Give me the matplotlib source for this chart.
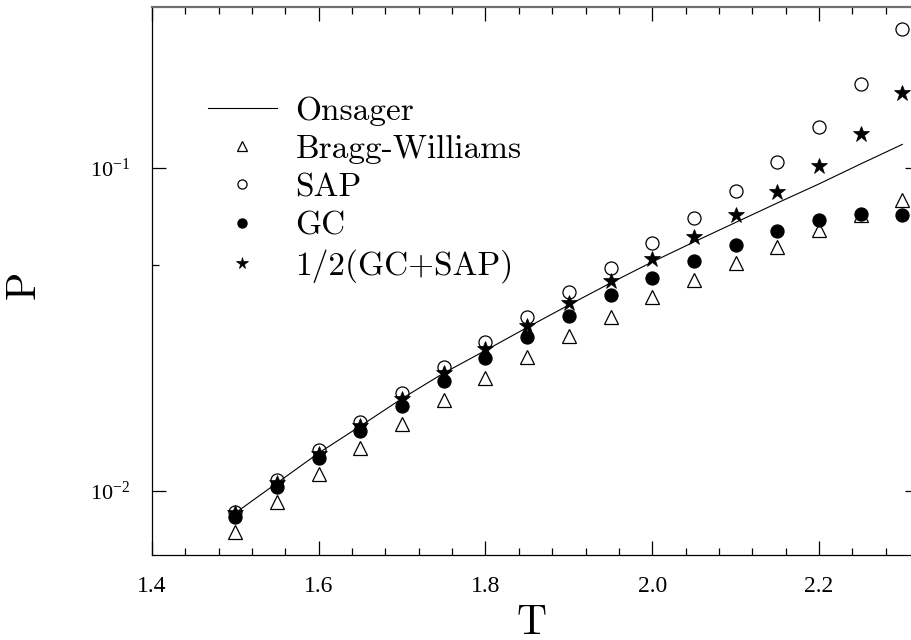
import matplotlib
matplotlib.use("Agg")
import matplotlib.pyplot as plt
from matplotlib.ticker import MultipleLocator, LogLocator, NullFormatter

plt.rcParams['font.family'] = ['Liberation Serif', 'DejaVu Serif']
plt.rcParams['mathtext.fontset'] = 'custom'
plt.rcParams['mathtext.rm'] = 'Liberation Serif'
plt.rcParams['mathtext.it'] = 'Liberation Serif:italic'
plt.rcParams['axes.formatter.use_mathtext'] = True

# ---------------- data ----------------
T = [1.50, 1.55, 1.60, 1.65, 1.70, 1.75, 1.80, 1.85, 1.90,
     1.95, 2.00, 2.05, 2.10, 2.15, 2.20, 2.25, 2.30]

onsager = [0.00855, 0.01059, 0.01311, 0.01589, 0.01934, 0.02318, 0.02723, 0.03208,
           0.03765, 0.04404, 0.05117, 0.05900, 0.06781, 0.07790, 0.08923, 0.1029, 0.1183]

bragg_williams = [0.00748, 0.00927, 0.01129, 0.01358, 0.01612, 0.01913, 0.02238, 0.02605,
                  0.03020, 0.03464, 0.03979, 0.04484, 0.05070, 0.05705, 0.06427, 0.07153, 0.07960]

sap = [0.00863, 0.01081, 0.01339, 0.01639, 0.02011, 0.02421, 0.02900, 0.03464,
       0.04123, 0.04912, 0.05846, 0.07018, 0.08506, 0.1046, 0.1342, 0.1820, 0.2694]

gc = [0.00833, 0.01031, 0.01265, 0.01534, 0.01836, 0.02196, 0.02581, 0.03005,
      0.03489, 0.04035, 0.04575, 0.05164, 0.05775, 0.06395, 0.06902, 0.07189, 0.07153]

half_gc_sap = [0.00855, 0.01059, 0.01306, 0.01589, 0.01927, 0.02318, 0.02752, 0.03242,
               0.03819, 0.04458, 0.05216, 0.06101, 0.07153, 0.08445, 0.1016, 0.1272, 0.1703]

labels = ['Onsager', 'Bragg-Williams', 'SAP', 'GC', '1/2(GC+SAP)']
x_ticks = [1.4, 1.6, 1.8, 2.0, 2.2]
x_tick_labels = ['1.4', '1.6', '1.8', '2.0', '2.2']

# ---------------- figure ----------------
W, H = 912, 640
fig = plt.figure(figsize=(W / 100, H / 100), dpi=100)
left, right, top, bottom = 152, 919, 7, 555
ax = fig.add_axes([left / W, 1 - bottom / H, (right - left) / W, (bottom - top) / H])

ms = 9.4
ax.plot(T, onsager, '-', color='black', lw=0.8, label=labels[0])
ax.plot(T, bragg_williams, '^', ms=ms, mfc='none', mec='black', mew=0.9, ls='none', label=labels[1])
ax.plot(T, sap, 'o', ms=ms, mfc='none', mec='black', mew=0.9, ls='none', label=labels[2])
ax.plot(T, gc, 'o', ms=ms, mfc='black', mec='black', mew=0.9, ls='none', label=labels[3])
ax.plot(T, half_gc_sap, '*', ms=ms + 2.5, mfc='black', mec='black', mew=0.5, ls='none', label=labels[4])

ax.set_yscale('log')
ax.set_xlim(1.4, 2.32)
ax.set_ylim(0.006336, 0.3150)

ax.xaxis.set_minor_locator(MultipleLocator(0.04))
ax.set_xticks(x_ticks)
ax.set_xticklabels(x_tick_labels)
ax.yaxis.set_major_locator(LogLocator(base=10))
ax.yaxis.set_minor_locator(LogLocator(base=10, subs=[5.0]))
ax.yaxis.set_minor_formatter(NullFormatter())

ax.tick_params(which='both', direction='in', top=True, right=True, width=0.9)
ax.tick_params(which='major', length=10)
ax.tick_params(which='minor', length=5)
ax.tick_params(axis='x', which='major', labelsize=17, pad=15)
ax.tick_params(axis='y', which='major', labelsize=16, pad=16)

ax.spines['top'].set_color('#707070')
ax.spines['top'].set_linewidth(1.6)
for s in ['left', 'bottom', 'right']:
    ax.spines[s].set_linewidth(0.9)

ax.set_xlabel('T', fontsize=30, family='cmr10')
ax.set_ylabel('P', fontsize=30, family='cmr10')
ax.xaxis.set_label_coords((532 - left) / (right - left), -0.09)
ax.yaxis.set_label_coords((43 - left) / (right - left), (bottom - 285) / (bottom - top))

leg = ax.legend(loc='upper left', bbox_to_anchor=(208 / W, 1 - 96 / H),
                bbox_transform=fig.transFigure, frameon=False,
                prop={'family': 'cmr10', 'size': 24},
                handlelength=2.07, handletextpad=0.55, labelspacing=0.27,
                markerscale=0.7, borderpad=0, borderaxespad=0)

fig.savefig('out.png', dpi=100)
